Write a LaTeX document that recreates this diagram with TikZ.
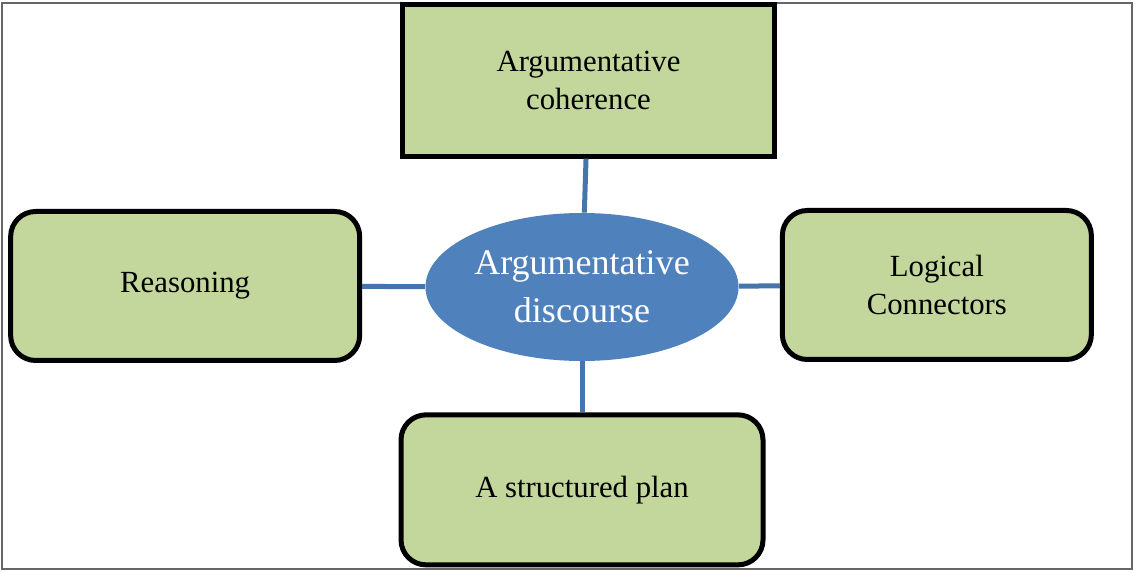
\documentclass[tikz,border=0pt]{standalone}
\usepackage{fontspec}
\setmainfont{Liberation Serif}
\usepackage{xcolor}
\usetikzlibrary{positioning, shapes.geometric}
\definecolor{boxgreen}{HTML}{C3D69B}
\definecolor{discblue}{HTML}{4F81BD}
\definecolor{linkblue}{HTML}{4675AE}

\begin{document}
\begin{tikzpicture}[node distance=1cm and 1cm,
  box/.style={draw=black, line width=0.1cm, fill=boxgreen, align=center, inner sep=2pt, font=\fontsize{17.5}{21.5}\selectfont},
  rbox/.style={box, rounded corners=0.5cm},
  link/.style={draw=linkblue, line width=0.1cm}]
  \useasboundingbox (-11.64,-5.70) rectangle (11.06,5.74);
  \draw[black!60, line width=0.04cm] (-11.60,5.68) rectangle (11.00,-5.64);
  \node (disc) [ellipse, fill=discblue, text=white, minimum width=6.26cm, minimum height=2.96cm, inner sep=0pt, align=center, font=\fontsize{20.5}{27.2}\selectfont] {Argumentative\\discourse};
  \node (coh) [box, minimum width=7.44cm, minimum height=3.04cm, above=1.08cm of disc, xshift=0.13cm] {Argumentative\\coherence};
  \node (reas) [rbox, minimum width=6.98cm, minimum height=2.98cm, left=1.26cm of disc, yshift=0.02cm] {Reasoning};
  \node (conn) [rbox, minimum width=6.18cm, minimum height=2.98cm, right=0.82cm of disc, yshift=0.04cm] {Logical\\Connectors};
  \node (plan) [rbox, minimum width=7.24cm, minimum height=3.00cm, below=1.02cm of disc] {A structured plan};
  \draw[link] (coh) -- (disc);
  \draw[link] (reas) -- (disc);
  \draw[link] (conn) -- (disc);
  \draw[link] (plan) -- (disc);
\end{tikzpicture}
\end{document}
